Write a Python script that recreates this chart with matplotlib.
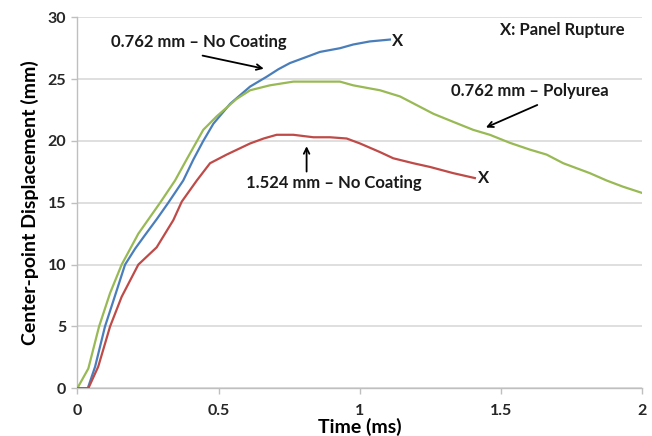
import matplotlib
matplotlib.use('Agg')
import matplotlib.pyplot as plt

# ------------------------------------------------------ #
# Data
# ------------------------------------------------------ #
t_blue = [0, 0.037, 0.063, 0.098, 0.128, 0.169, 0.205, 0.240, 0.282, 0.322,
          0.375, 0.411, 0.446, 0.482, 0.541, 0.612, 0.671, 0.712, 0.753,
          0.824, 0.859, 0.930, 0.977, 1.036, 1.107]
y_blue = [0, 0, 1.75, 5.0, 7.1, 10.0, 11.3, 12.4, 13.7, 15.0,
          16.8, 18.5, 20.0, 21.4, 23.0, 24.4, 25.2, 25.8, 26.3,
          26.9, 27.2, 27.5, 27.8, 28.05, 28.2]

t_green = [0, 0.039, 0.077, 0.116, 0.157, 0.216, 0.293, 0.346, 0.387, 0.446,
           0.494, 0.564, 0.612, 0.682, 0.765, 0.848, 0.930, 0.977, 1.036,
           1.072, 1.143, 1.202, 1.261, 1.331, 1.402, 1.461, 1.532, 1.603,
           1.662, 1.721, 1.815, 1.875, 1.933, 2.0]
y_green = [0, 1.6, 5.0, 7.7, 10.0, 12.5, 15.0, 16.8, 18.5, 20.9,
           22.0, 23.4, 24.1, 24.5, 24.8, 24.8, 24.8, 24.5, 24.25,
           24.1, 23.6, 22.9, 22.2, 21.55, 20.9, 20.5, 19.85, 19.3,
           18.9, 18.2, 17.4, 16.8, 16.3, 15.8]

t_red = [0, 0.039, 0.074, 0.116, 0.157, 0.216, 0.281, 0.340, 0.370, 0.423,
         0.470, 0.529, 0.612, 0.660, 0.706, 0.765, 0.836, 0.895, 0.954, 1.001,
         1.072, 1.119, 1.190, 1.249, 1.331, 1.408]
y_red = [0, 0, 1.75, 5.0, 7.4, 10.0, 11.4, 13.6, 15.1, 16.8,
         18.2, 18.9, 19.8, 20.2, 20.5, 20.5, 20.3, 20.3, 20.2, 19.8,
         19.1, 18.6, 18.2, 17.9, 17.4, 17.0]

x_ticks = [0, 0.5, 1, 1.5, 2]
x_tick_labels = ['0', '0.5', '1', '1.5', '2']
y_ticks = [0, 5, 10, 15, 20, 25, 30]

# ------------------------------------------------------ #
# Plot
# ------------------------------------------------------ #
plt.rcParams['font.family'] = ['Lato', 'DejaVu Sans']
plt.rcParams['font.weight'] = 'bold'

grey = '#bfbfbf'
fig = plt.figure(figsize=(6.52, 4.36), dpi=100)
ax = fig.add_axes([0.1186, 0.1094, 0.8661, 0.8509])

line_kw = dict(lw=1.6, zorder=3, solid_joinstyle='round')
ax.plot(t_blue, y_blue, color='#4a7ebb', **line_kw)
ax.plot(t_green, y_green, color='#98b954', **line_kw)
ax.plot(t_red, y_red, color='#be4b48', **line_kw)

ax.set_xlim(0, 2)
ax.set_ylim(0, 30)
ax.set_xticks(x_ticks)
ax.set_xticklabels(x_tick_labels)
ax.set_yticks(y_ticks)
ax.grid(axis='y', color='#d9d9d9', lw=1.2)
ax.set_axisbelow(True)
for side in ['top', 'right']:
    ax.spines[side].set_visible(False)
for side in ['left', 'bottom']:
    ax.spines[side].set_color(grey)
    ax.spines[side].set_linewidth(1.0)
ax.tick_params(axis='both', colors=grey, length=4, width=1.0, labelsize=11.5,
               labelcolor='#262626')
ax.tick_params(axis='x', pad=7)
ax.tick_params(axis='y', pad=4)

ax.set_xlabel('Time (ms)', fontsize=14, fontweight='bold', labelpad=0)
ax.set_ylabel('Center-point Displacement (mm)', fontsize=14, fontweight='bold',
              labelpad=6)

# annotations
txt = dict(fontsize=12, fontweight='bold', color='#1a1a1a')
arrow = dict(arrowstyle='->', color='black', lw=1.3)
ax.text(0.43, 28.0, '0.762 mm – No Coating', ha='center', va='center', **txt)
ax.annotate('', xy=(0.67, 25.8), xytext=(0.434, 26.95), arrowprops=arrow)
ax.text(1.603, 24.06, '0.762 mm – Polyurea', ha='center', va='center', **txt)
ax.annotate('', xy=(1.438, 21.0), xytext=(1.638, 23.0), arrowprops=arrow)
ax.text(0.909, 16.6, '1.524 mm – No Coating', ha='center', va='center', **txt)
ax.annotate('', xy=(0.812, 19.8), xytext=(0.812, 17.3), arrowprops=arrow)
ax.text(1.94, 29.0, 'X: Panel Rupture', ha='right', va='center', **txt)
ax.text(1.115, 28.1, 'X', ha='left', va='center', **txt)
ax.text(1.418, 17.0, 'X', ha='left', va='center', **txt)

fig.savefig('out.png', dpi=100)
